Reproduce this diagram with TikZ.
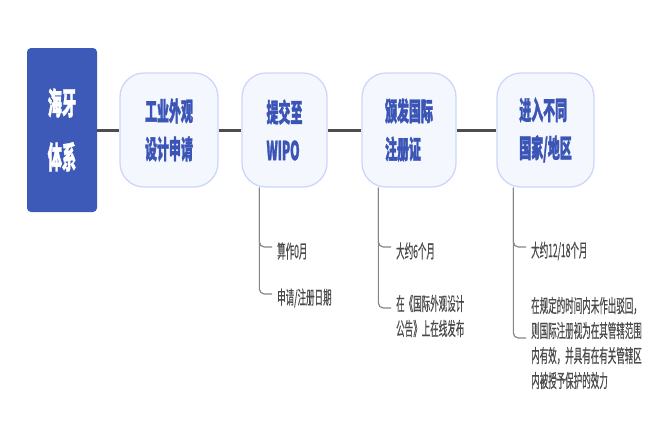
\documentclass[tikz,border=0pt]{standalone}
\usepackage{fontspec}
\newfontfamily\cjk{Noto Sans CJK SC}[FakeStretch=0.46, BoldFeatures={FakeBold=1.2}]
\newfontfamily\cjksub{Noto Sans CJK SC}[FakeStretch=0.46, FakeBold=0.4]
\definecolor{rootblue}{HTML}{3D5AB9}
\definecolor{nodeblue}{HTML}{3A55B6}
\definecolor{nodefill}{HTML}{F5F7FF}
\definecolor{nodeborder}{HTML}{CDD6FA}
\definecolor{subgray}{HTML}{4A4A4A}
\definecolor{linegray}{HTML}{4D4D4D}
\definecolor{branchgray}{HTML}{858585}
\begin{document}
\begin{tikzpicture}[x=1pt,y=-1pt,
  rootbox/.style={draw=none, fill=rootblue, rounded corners=4pt, minimum width=70pt, minimum height=164pt, text=white, font=\cjk\bfseries\fontsize{31}{54}\selectfont, align=center, inner sep=0pt},
  stepbox/.style={draw=nodeborder, line width=1.3pt, fill=nodefill, rounded corners=24pt, minimum height=114pt, text=nodeblue, font=\cjk\bfseries\fontsize{26}{38}\selectfont, align=left, inner sep=0pt},
  item/.style={anchor=west, inner sep=0pt, text=subgray, font=\cjksub\fontsize{18.5}{25}\selectfont, align=left},
  mainline/.style={draw=linegray, line width=3pt},
  branch/.style={draw=branchgray, line width=1.2pt, rounded corners=5pt}]

\useasboundingbox (0,0) rectangle (656,429);

% main nodes
\node[rootbox] (root) at (62,130) {海牙\\体系};
\node[stepbox, minimum width=98pt] (n1) at (169,130) {工业外观\\设计申请};
\node[stepbox, minimum width=85pt] (n2) at (284.5,130) {提交至\\WIPO};
\node[stepbox, minimum width=94pt] (n3) at (409,130) {颁发国际\\注册证};
\node[stepbox, minimum width=97pt] (n4) at (545.5,130) {进入不同\\国家/地区};

% main line
\draw[mainline] (root.east) -- (n1.west);
\draw[mainline] (n1.east) -- (n2.west);
\draw[mainline] (n2.east) -- (n3.west);
\draw[mainline] (n3.east) -- (n4.west);

% sub items
\node[item] (i21) at (277,251) {算作0月};
\node[item] (i22) at (277,298) {申请/注册日期};
\node[item] (i31) at (396,251) {大约6个月};
\node[item] (i32) at (396,316) {在《国际外观设计\\公告》上在线发布};
\node[item] (i41) at (531,251) {大约12/18个月};
\node[item] (i42) at (531,343) {在规定的时间内未作出驳回，\\则国际注册视为在其管辖范围\\内有效，并具有在有关管辖区\\内被授予保护的效力};

% branch origins
\coordinate (b2) at ([xshift=18pt]n2.south west);
\coordinate (b3) at ([xshift=17pt]n3.south west);
\coordinate (b4) at ([xshift=17pt]n4.south west);

\draw[branch] (b2) |- ([xshift=-5pt,yshift=4pt]i21.west);
\draw[branch] (b2) |- ([xshift=-5pt,yshift=4pt]i22.west);
\draw[branch] (b3) |- ([xshift=-5pt,yshift=4pt]i31.west);
\draw[branch] (b3) |- ([xshift=-5pt,yshift=8pt]i32.west);
\draw[branch] (b4) |- ([xshift=-5pt,yshift=4pt]i41.west);
\draw[branch] (b4) |- ([xshift=-5pt,yshift=5pt]i42.west);
\end{tikzpicture}
\end{document}
